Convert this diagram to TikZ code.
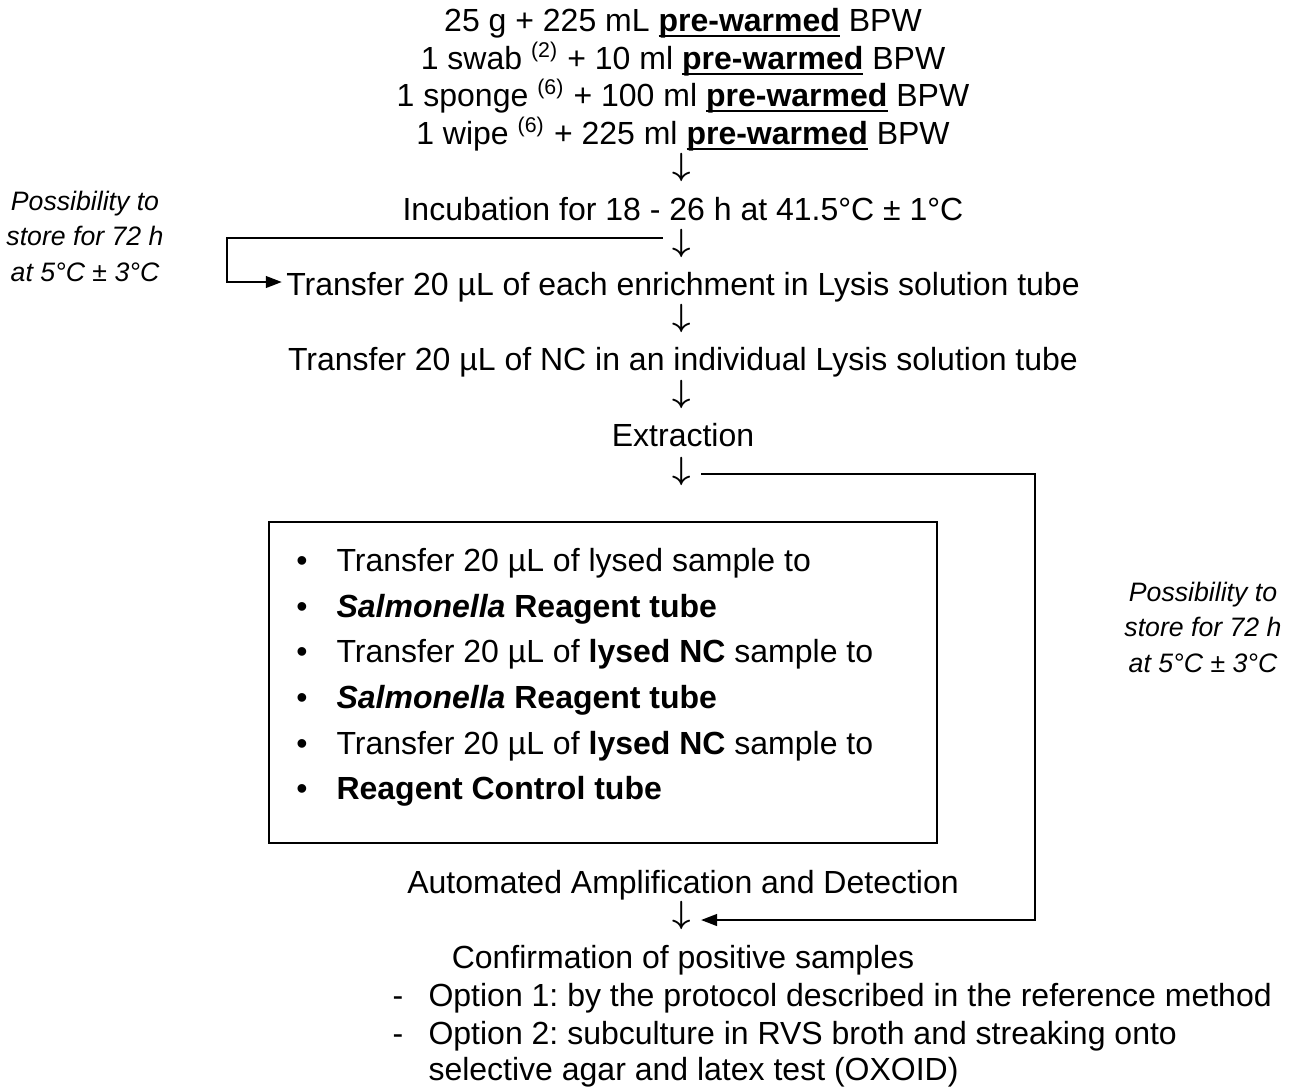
\documentclass[tikz,border=0pt]{standalone}
\usepackage{amsmath}
\usepackage{fontspec}
\setmainfont{Liberation Sans}
\usetikzlibrary{arrows.meta,positioning,calc}
\frenchspacing
\tikzset{
  steptext/.style={font=\fontsize{12}{14}\selectfont, inner sep=0pt, anchor=base},
  downarr/.style={font=\fontsize{12}{14}\selectfont, inner xsep=3.5pt, inner ysep=0pt},
  notetext/.style={font=\fontsize{10}{13.3}\selectfont\itshape, align=center, inner sep=0pt},
  listbox/.style={draw, line width=0.6pt, minimum width=250.5pt, minimum height=120.4pt,
                  anchor=north west, inner sep=0pt},
  itemtext/.style={font=\fontsize{12}{14}\selectfont, inner sep=0pt, anchor=base west},
  flowarr/.style={-{Triangle[length=6pt,width=4.4pt]}, line width=0.75pt}
}
\newcommand{\pw}{\setbox0\hbox{\textbf{pre-warmed}}\rlap{\rule[-2.4pt]{\wd0}{1pt}}\box0}
\newcommand{\dn}{$\boldsymbol{\downarrow}$}

\begin{document}
\begin{tikzpicture}[x=0.375pt,y=-0.375pt]
  \useasboundingbox (0,0) rectangle (1293,1086);
  % enrichment lines
  \foreach \n/\y/\txt in {a/31/{25 g + 225 mL \pw{} BPW},
                          b/69/{1 swab \textsuperscript{(2)} + 10 ml \pw{} BPW},
                          c/106/{1 sponge \textsuperscript{(6)} + 100 ml \pw{} BPW},
                          d/144/{1 wipe \textsuperscript{(6)} + 225 ml \pw{} BPW}} {
    \node[steptext] (enr\n) at (683,\y) {\txt};
  }
  \node[downarr] (arr1) at (682,167) {\dn};
  \node[steptext] (incub) at (683,220) {Incubation for 18 - 26 h at 41.5°C ± 1°C};
  \node[downarr] (arr2) at (682,243.5) {\dn};
  \node[steptext] (trans1) at (683,295) {Transfer 20 µL of each enrichment in Lysis solution tube};
  \node[downarr] (arr3) at (682,318.5) {\dn};
  \node[steptext] (trans2) at (683,370) {Transfer 20 µL of NC in an individual Lysis solution tube};
  \node[downarr] (arr4) at (682,394.5) {\dn};
  \node[steptext] (extr) at (683,446) {Extraction};
  \node[downarr] (arr5) at (682,471) {\dn};

  % reagent box
  \node[listbox] (box) at (268,521) {};
  \foreach \y/\txt in {571/{Transfer 20 µL of lysed sample to},
                       617/{\textbf{\textit{Salmonella} Reagent tube}},
                       662/{Transfer 20 µL of \textbf{lysed NC} sample to},
                       708/{\textbf{\textit{Salmonella} Reagent tube}},
                       754/{Transfer 20 µL of \textbf{lysed NC} sample to},
                       799/{\textbf{Reagent Control tube}}} {
    \node[itemtext, anchor=base] at (302,\y) {•};
    \node[itemtext] at (336,\y) {\txt};
  }

  \node[steptext] (ampl) at (683,893) {Automated Amplification and Detection};
  \node[downarr] (arr6) at (682,915.5) {\dn};
  \node[steptext] (conf) at (683,968) {Confirmation of positive samples};
  \node[steptext] (dash1) at (398,1006) {-};
  \node[itemtext] (opt1) at (428,1006) {Option 1: by the protocol described in the reference method};
  \node[steptext] (dash2) at (398,1044) {-};
  \node[itemtext] (opt2) at (428,1044) {Option 2: subculture in RVS broth and streaking onto};
  \node[itemtext] (opt2b) at (428,1080) {selective agar and latex test (OXOID)};

  % storage notes
  \node[notetext] (noteL) at (85,236) {Possibility to\\store for 72 h\\at 5°C ± 3°C};
  \node[notetext] (noteR) at (1203,627) {Possibility to\\store for 72 h\\at 5°C ± 3°C};

  % storage loops
  \coordinate (l1) at (227,238);
  \coordinate (l2) at (227,282);
  \draw[flowarr] (arr2.west |- l1) -- (l1) -- (l2) -- ([xshift=-1.5pt]trans1.west |- l2);
  \coordinate (r1) at (1035,474);
  \coordinate (r2) at (1035,920);
  \draw[flowarr] (arr5.east |- r1) -- (r1) -- (r2) -- (arr6.east |- r2);
\end{tikzpicture}
\end{document}
